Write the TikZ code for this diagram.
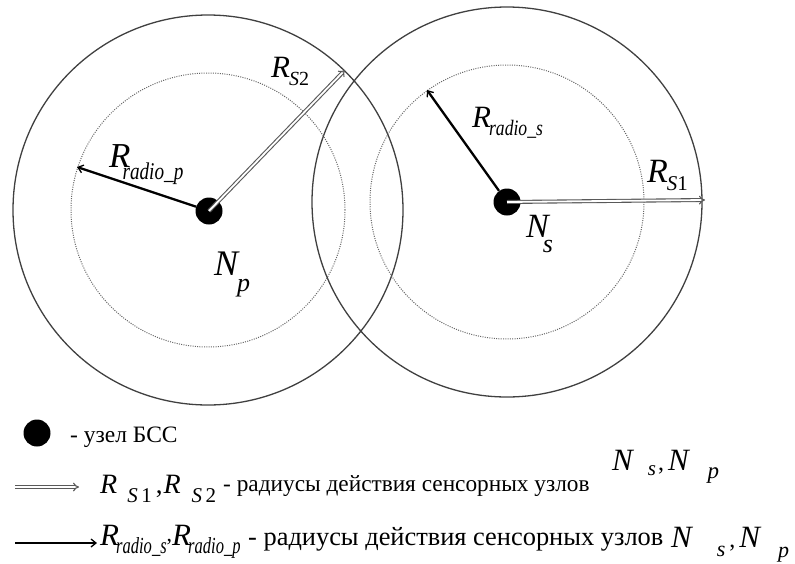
\documentclass[tikz,border=0pt]{standalone}
\usepackage{fontspec}
\setmainfont{Liberation Serif}
\usetikzlibrary{arrows.meta}
\newcommand\fs[1]{\fontsize{#1}{#1}\selectfont}
% #1 main size, #2 letter, #3 gap, #4 drop, #5 sub size, #6 hscale, #7 sub text
\newcommand\symb[7]{{\fs{#1}\itshape #2}\hspace*{#3}\raisebox{-#4}{\scalebox{#6}[1]{\fs{#5}#7}}}
\begin{document}
\begin{tikzpicture}[x=1pt,y=-1pt,
  ring/.style={draw=black!75, line width=1.3pt},
  dotring/.style={draw=black!60, line width=1pt, dash pattern=on 1pt off 1.3pt},
  bssnode/.style={circle, fill=black, minimum size=27pt, inner sep=0pt},
  radioarrow/.style={draw=black, line width=2.3pt, -{Straight Barb[length=5pt,width=8pt,line width=1.3pt]}},
  sensarrow/.style={draw=black!65, double=white, double distance=1.8pt, line width=1.1pt, -{Implies[length=6pt]}},
  lbl/.style={inner sep=0pt, anchor=base west},
  txt/.style={inner sep=0pt, anchor=base west}]
\useasboundingbox (0,0) rectangle (795,563);
% circles
\draw[ring] (208,210) circle[radius=195pt];
\draw[ring] (507,202) circle[radius=195pt];
\draw[dotring] (208,210) circle[radius=137pt];
\draw[dotring] (507,202) circle[radius=137pt];
% nodes
\node[bssnode] (Np) at (209,211) {};
\node[bssnode] (Ns) at (507,202) {};
\coordinate (eRp) at (77,167);
\coordinate (eRs) at (427,90);
\coordinate (eS2) at (345,70);
\coordinate (eS1) at (705,200);
\draw[radioarrow] (Np) -- (eRp);
\draw[radioarrow] (Ns) -- (eRs);
\draw[sensarrow] (Np.center) -- (eS2);
\draw[sensarrow] (Ns.center) -- (eS1);
% labels
\node[lbl] (lRp) at (109,167) {\symb{35}{R}{-8pt}{12pt}{24}{0.8}{\itshape radio\_p}};
\node[lbl] (lS2) at (271,77) {\symb{31}{R}{-1pt}{8pt}{20}{1}{\itshape S\upshape 2}};
\node[lbl] (lRs) at (472,127) {\symb{31}{R}{-2pt}{8pt}{22}{0.8}{\itshape radio\_s}};
\node[lbl] (lS1) at (647,182) {\symb{34}{R}{-1pt}{8pt}{21}{1}{\itshape S\upshape 1}};
\node[lbl] (lNp) at (214,275) {\symb{36}{N}{-1pt}{16pt}{26}{1}{\itshape p}};
\node[lbl] (lNs) at (526,237) {\symb{34}{N}{-6pt}{15pt}{26}{1}{\itshape s}};
% legend line 1
\node[bssnode] (leg1) at (37,433) {};
\node[txt] (t1) at (70,442) {\fs{23.5}- узел БСС};
% legend line 2
\coordinate (a2s) at (15,487);
\coordinate (a2e) at (79,487);
\draw[sensarrow] (a2s) -- (a2e);
\node[lbl] (l2a) at (100,493) {\symb{28}{R}{10pt}{9pt}{21}{1}{\itshape S\,\upshape 1}\hspace*{4pt}{\fs{27},}\hspace*{1pt}\symb{28}{R}{11pt}{9pt}{21}{1}{\itshape S\,\upshape 2}};
\node[txt] (t2) at (223,491) {\fs{23.3}- радиусы действия сенсорных узлов};
\node[lbl] (l2b) at (612,470) {\symb{31}{N}{15pt}{5pt}{21}{1}{\itshape s}\hspace*{2pt}{\fs{24},}\hspace*{4pt}\symb{31}{N}{19pt}{8pt}{23}{1}{\itshape p}};
% legend line 3
\coordinate (a3s) at (15,543);
\coordinate (a3e) at (97,543);
\draw[radioarrow] (a3s) -- (a3e);
\node[lbl] (l3a) at (100,545) {\symb{31}{R}{-3pt}{8pt}{23}{0.72}{\itshape radio\_s}\raisebox{4pt}{\fs{22},}\symb{31}{R}{-3pt}{8pt}{23}{0.72}{\itshape radio\_p}};
\node[txt] (t3) at (248,545) {\fs{26.4}- радиусы действия сенсорных узлов};
\node[lbl] (l3b) at (671,547) {\symb{31}{N}{25pt}{9pt}{22}{1}{\itshape s}\hspace*{4pt}{\fs{24},}\hspace*{4pt}\symb{31}{N}{18pt}{10pt}{22}{1}{\itshape p}};
\end{tikzpicture}
\end{document}
